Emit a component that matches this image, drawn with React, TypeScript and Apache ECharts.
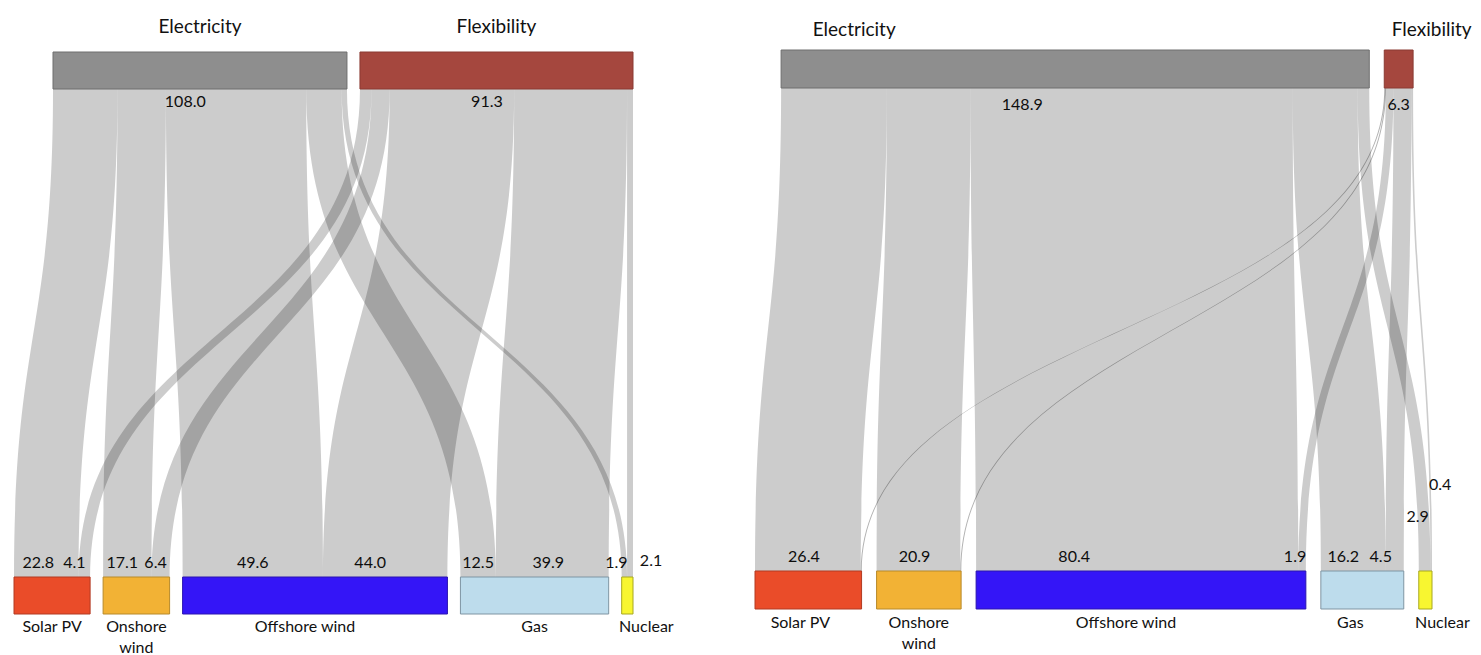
import React, { useEffect, useRef } from 'react';
import * as echarts from 'echarts';

// ---------- data ----------
const sources = ['Electricity', 'Flexibility'];
const targets = ['Solar PV', 'Onshore wind', 'Offshore wind', 'Gas', 'Nuclear'];
const targetLabels = ['Solar PV', 'Onshore\nwind', 'Offshore wind', 'Gas', 'Nuclear'];

// left panel: flows from each source to each target
const leftElectricity = [22.8, 17.1, 49.6, 12.5, 1.9];
const leftFlexibility = [4.1, 6.4, 44.0, 39.9, 2.1];
const leftTotals = [108.0, 91.3];

// right panel
const rightElectricity = [26.4, 20.9, 80.4, 16.2, 2.9];
const rightFlexibility = [0.2, 0.2, 1.9, 4.5, 0.4];
const rightTotals = [148.9, 6.3];

// ---------- styles ----------
const FONT = 'Lato, "Open Sans", sans-serif';
const sourceColors = [
  { color: '#8e8e8e', borderColor: '#6e6e6e' },
  { color: '#a5473e', borderColor: '#8a3b33' },
];
const targetColors = [
  { color: '#ea4c29', borderColor: '#b23a22' },
  { color: '#f2b235', borderColor: '#b88a2a' },
  { color: '#3415f7', borderColor: '#2a14b0' },
  { color: '#bddcec', borderColor: '#7f95a3' },
  { color: '#f8f630', borderColor: '#a8a820' },
];

const panels = [
  {
    flows: [leftElectricity, leftFlexibility],
    totals: leftTotals,
    box: { left: 14, top: 52, width: 619, height: 562 },
    nodeWidth: 37,
    gap: 13,
    topAlign: 1,
    titleDistance: 17,
    titleOffsets: [[0, 0], [0, 0]],
    nameOffsets: [[0, 0], [0, 0], [-10, 0], [0, 0], [19, 0]],
    nameDistance: 0,
    totalFrac: [0.45, 0.465],
    totalDy: 11,
    labelAbove: 16,
    nudgeX: [[-8, -5, 0, 0, -8], [-10, -5, -15, -4, 21]],
    nudgeY: [[0, 0, 0, 0, 0], [0, 0, 0, 0, -2]],
  },
  {
    flows: [rightElectricity, rightFlexibility],
    totals: rightTotals,
    box: { left: 755, top: 50, width: 677, height: 559 },
    nodeWidth: 38,
    gap: 15,
    topAlign: 0.58,
    titleDistance: 12,
    titleOffsets: [[-221, 0], [33, 0]],
    nameOffsets: [[-8, 0], [0, 0], [-15, 0], [-12, 0], [17, 0]],
    nameDistance: 1,
    totalFrac: [0.41, 0.5],
    totalDy: 15,
    labelAbove: 16,
    nudgeX: [[-4, -4, -63, -10, -7], [0, 0, -7, -14, 9]],
    nudgeY: [[0, 0, 0, 0, -40], [0, 0, 0, 0, -72]],
  },
];

const sum = (a: number[]) => a.reduce((s, v) => s + v, 0);

function computeLayout(p: any) {
  const W = p.box.width;
  const nodeTotals = targets.map((_, j) => p.flows[0][j] + p.flows[1][j]);
  const srcTotals = p.flows.map((f: number[]) => sum(f));
  const ky = Math.min(
    (W - (targets.length - 1) * p.gap) / sum(nodeTotals),
    (W - (sources.length - 1) * p.gap) / sum(srcTotals)
  );
  const botX: number[] = [];
  let x = 0;
  nodeTotals.forEach((v) => { botX.push(x); x += v * ky + p.gap; });
  const topSpan = sum(srcTotals) * ky + (sources.length - 1) * p.gap;
  const offset = p.topAlign * (W - topSpan);
  const topX: number[] = [];
  x = offset;
  srcTotals.forEach((v: number) => { topX.push(x); x += v * ky + p.gap; });
  return { ky, botX, topX, nodeTotals, srcTotals };
}

export default function App() {
  const ref = useRef<HTMLDivElement>(null);
  useEffect(() => {
    const chart = echarts.init(ref.current!, null, { renderer: 'svg' });
    const series: any[] = [];
    const graphics: any[] = [];

    panels.forEach((p) => {
      const L = computeLayout(p);
      const W = p.box.width;
      const data: any[] = [];
      sources.forEach((name, i) => {
        data.push({
          name,
          localX: L.topX[i] / W,
          itemStyle: { ...sourceColors[i], borderWidth: 1 },
          label: {
            position: 'top',
            distance: p.titleDistance,
            offset: p.titleOffsets[i],
            fontSize: 19,
          },
        });
      });
      targets.forEach((name, j) => {
        data.push({
          name,
          itemStyle: { ...targetColors[j], borderWidth: 1 },
          label: {
            position: 'bottom',
            distance: p.nameDistance,
            offset: p.nameOffsets[j],
            fontSize: 16,
            lineHeight: 21,
            formatter: targetLabels[j],
          },
        });
      });
      const links: any[] = [];
      sources.forEach((s, i) => {
        targets.forEach((t, j) => {
          const v = p.flows[i][j];
          links.push({
            source: s,
            target: t,
            value: v,
            lineStyle: v < 0.3 ? { opacity: 0.3 } : undefined,
          });
        });
      });
      series.push({
        type: 'sankey',
        orient: 'vertical',
        left: p.box.left,
        top: p.box.top,
        width: p.box.width,
        height: p.box.height,
        nodeWidth: p.nodeWidth,
        nodeGap: p.gap,
        layoutIterations: 0,
        draggable: false,
        emphasis: { disabled: true },
        label: { color: '#111', fontFamily: FONT },
        lineStyle: { color: '#000000', opacity: 0.2, curveness: 0.5 },
        data,
        links,
      });

      // total labels under source nodes
      sources.forEach((_, i) => {
        const w = L.srcTotals[i] * L.ky;
        graphics.push({
          type: 'text',
          x: p.box.left + L.topX[i] + w * p.totalFrac[i],
          y: p.box.top + p.nodeWidth + p.totalDy,
          silent: true,
          style: {
            text: p.totals[i].toFixed(1),
            fontSize: 16,
            fontFamily: FONT,
            fill: '#111',
            align: 'center',
            verticalAlign: 'middle',
            textAlign: 'center',
            textVerticalAlign: 'middle',
          },
        });
      });
      // flow value labels above target nodes
      targets.forEach((_, j) => {
        let cum = 0;
        sources.forEach((__, i) => {
          const v = p.flows[i][j];
          const w = v * L.ky;
          const cx = p.box.left + L.botX[j] + cum + w / 2;
          cum += w;
          if (v < 0.3) return;
          graphics.push({
            type: 'text',
            x: cx + p.nudgeX[i][j],
            y: p.box.top + p.box.height - p.nodeWidth - p.labelAbove + p.nudgeY[i][j],
            silent: true,
            style: {
              text: v.toFixed(1),
              fontSize: 16,
              fontFamily: FONT,
              fill: '#111',
              align: 'center',
              verticalAlign: 'middle',
              textAlign: 'center',
              textVerticalAlign: 'middle',
            },
          });
        });
      });
    });

    chart.setOption({
      animation: false,
      backgroundColor: '#ffffff',
      textStyle: { fontFamily: FONT },
      series,
      graphic: { elements: graphics },
    });
    return () => chart.dispose();
  }, []);
  return (
    <div
      ref={ref}
      style={{ position: 'fixed', left: 0, top: 0, width: 1481, height: 655, background: '#fff' }}
    />
  );
}
